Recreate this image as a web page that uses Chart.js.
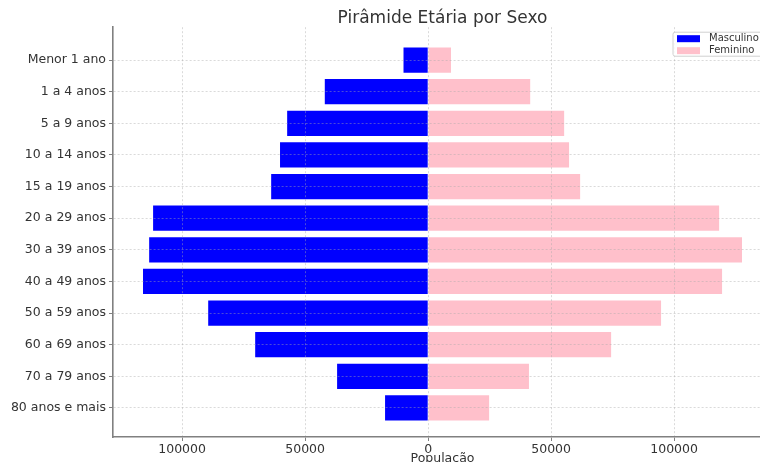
<!DOCTYPE html>
<html>
<head>
<meta charset="utf-8">
<script src="https://cdn.jsdelivr.net/npm/chart.js@4"></script>
<style>
html,body{margin:0;padding:0;background:#fff;overflow:hidden;}
#wrap{width:760px;height:462px;overflow:hidden;position:relative;}
canvas{display:block;}
</style>
</head>
<body>
<div id="wrap"><canvas id="c" width="885" height="462"></canvas></div>
<script>
const categories = ['Menor 1 ano','1 a 4 anos','5 a 9 anos','10 a 14 anos','15 a 19 anos','20 a 29 anos','30 a 39 anos','40 a 49 anos','50 a 59 anos','60 a 69 anos','70 a 79 anos','80 anos e mais'];
const masculino = [10000, 42000, 57300, 60200, 63800, 111800, 113400, 115900, 89400, 70300, 37000, 17500];
const feminino  = [9300, 41500, 55300, 57300, 61800, 118300, 127600, 119500, 94700, 74400, 41000, 24800];
const xTickValues = [-100000, -50000, 0, 50000, 100000];
const seriesNames = ['Masculino', 'Feminino'];
const seriesColors = ['#0000ff', '#ffc0cb'];

const FONT = 'DejaVu Sans';
const TEXT = '#333333';
const SPINE = '#808080';

const legendPlugin = {
  id: 'mplLegend',
  afterDraw(chart) {
    const ctx = chart.ctx;
    const ca = chart.chartArea;
    const left = ca.right - 99, top = ca.top + 5, w = 93, h = 24;
    ctx.save();
    ctx.beginPath();
    if (ctx.roundRect) ctx.roundRect(left, top, w, h, 2); else ctx.rect(left, top, w, h);
    ctx.fillStyle = 'rgba(255,255,255,0.85)';
    ctx.fill();
    ctx.strokeStyle = '#d0d0d0';
    ctx.lineWidth = 1;
    ctx.stroke();
    ctx.font = '10px "' + FONT + '"';
    ctx.textBaseline = 'middle';
    ctx.textAlign = 'left';
    seriesNames.forEach((name, i) => {
      const y = top + 3 + i * 12;
      ctx.fillStyle = seriesColors[i];
      ctx.fillRect(left + 4, y, 23, 7);
      ctx.fillStyle = TEXT;
      ctx.fillText(name, left + 36, y + 3.5);
    });
    ctx.restore();
  }
};

const gridOpts = {
  display: true,
  offset: false,
  color: 'rgba(170,170,170,0.55)',
  lineWidth: 0.8,
  drawTicks: true,
  tickLength: 4,
  tickColor: SPINE,
  tickWidth: 1,
  tickBorderDash: [],
  z: 1
};
const borderOpts = { display: true, color: SPINE, width: 1.6, dash: [2, 2], z: 2 };

new Chart(document.getElementById('c'), {
  type: 'bar',
  data: {
    datasets: [
      {
        label: seriesNames[0],
        data: categories.map((c, i) => ({ x: -masculino[i], y: i })),
        backgroundColor: seriesColors[0],
        borderWidth: 0,
        grouped: false,
        barPercentage: 0.8,
        categoryPercentage: 1
      },
      {
        label: seriesNames[1],
        data: categories.map((c, i) => ({ x: feminino[i], y: i })),
        backgroundColor: seriesColors[1],
        borderWidth: 0,
        grouped: false,
        barPercentage: 0.8,
        categoryPercentage: 1
      }
    ]
  },
  options: {
    responsive: false,
    animation: false,
    indexAxis: 'y',
    layout: { padding: { left: 0, right: 113, top: 0, bottom: 0 } },
    plugins: {
      legend: { display: false },
      tooltip: { enabled: false },
      title: {
        display: true,
        fullSize: false,
        text: 'Pirâmide Etária por Sexo',
        color: TEXT,
        font: { family: FONT, size: 17, weight: 'normal', lineHeight: 1.07 },
        padding: { top: 9, bottom: 0 }
      }
    },
    scales: {
      x: {
        type: 'linear',
        position: 'bottom',
        offset: false,
        min: -128100,
        max: 139800,
        afterBuildTicks: s => { s.ticks = xTickValues.map(v => ({ value: v })); },
        afterFit: s => { s.height = 25; },
        ticks: {
          callback: v => String(Math.abs(v)),
          color: TEXT,
          font: { family: FONT, size: 12.5 },
          padding: 1,
          maxRotation: 0,
          autoSkip: false
        },
        grid: gridOpts,
        border: borderOpts,
        title: {
          display: true,
          text: 'População',
          color: TEXT,
          font: { family: FONT, size: 12.5 },
          padding: { top: 0, bottom: -4 }
        }
      },
      y: {
        type: 'linear',
        position: 'left',
        offset: false,
        min: -1.04,
        max: 11.92,
        reverse: true,
        afterBuildTicks: s => { s.ticks = categories.map((c, i) => ({ value: i })); },
        afterFit: s => { s.width = 113; },
        ticks: {
          callback: v => (categories[v] !== undefined ? categories[v] : ''),
          color: TEXT,
          font: { family: FONT, size: 12.5 },
          padding: 3,
          autoSkip: false
        },
        grid: gridOpts,
        border: borderOpts
      }
    }
  },
  plugins: [legendPlugin]
});
</script>
</body>
</html>
